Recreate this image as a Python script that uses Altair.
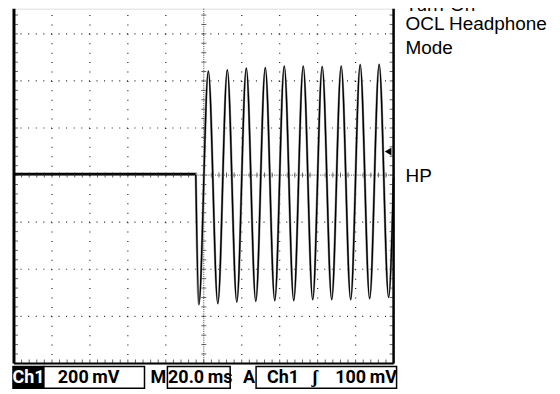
import altair as alt
import pandas as pd

# ---- scope geometry (data units): 20 ms/div, 200 mV/div ----
x_major = [-80, -60, -40, -20, 20, 40, 60, 80]
y_major = [-600, -400, -200, 200, 400, 600]
x_minor = [-100 + 4 * i for i in range(51)]
y_minor = [-800 + 40 * i for i in range(38)]

# ---- idle trace before turn-on ----
flat_t = [-100, -4.2]
flat_mv = [4, 4]

# ---- sine burst after turn-on: start, troughs/peaks, end ----
wave_t = [-4.2, -2.6, 2.4, 7.4, 12.4, 17.4, 22.4, 27.4, 32.4, 37.4, 42.4, 47.4,
          52.4, 57.4, 62.4, 67.4, 72.4, 77.4, 82.4, 87.4, 92.4, 97.4, 100]
wave_mv = [0, -550, 441, -546, 447, -539, 454, -536, 456, -533, 463, -533,
           463, -529, 461, -529, 463, -529, 469, -525, 470, -519, -10]

trigger_mv = [100]

# ---- status bar text ----
bar_labels = ["200\u2009mV", "M", "20.0\u2009ms", "A", "Ch1", "\u0283", "100\u2009mV"]
bar_x = [75, 145, 187, 236, 270, 302, 353.5]
side_labels = ["Turn-On", "OCL Headphone", "Mode", "HP"]
side_y = [2, 21, 45, 174]

W, H = 381, 356
xs = alt.Scale(domain=[-100, 100], nice=False, zero=False)
ys = alt.Scale(domain=[-800, 706.9], nice=False, zero=False)

X = lambda f="t": alt.X(f"{f}:Q", scale=xs, axis=None)
Y = lambda f="v": alt.Y(f"{f}:Q", scale=ys, axis=None)

vgrid = alt.Chart(pd.DataFrame({"t": x_major})).mark_rule(
    color="#222", strokeWidth=1.2, strokeDash=[1, 8.45], strokeDashOffset=3.09).encode(x=X())
hgrid = alt.Chart(pd.DataFrame({"v": y_major})).mark_rule(
    color="#222", strokeWidth=1.2, strokeDash=[1, 6.62], strokeDashOffset=0).encode(y=Y())

flat = alt.Chart(pd.DataFrame({"t": flat_t, "v": flat_mv})).mark_line(
    color="black", strokeWidth=2.6).encode(x=X(), y=Y())

center_v = alt.Chart(pd.DataFrame({"t": [0]})).mark_rule(
    color="#444", strokeDash=[1, 1.2], strokeWidth=1).encode(x=X())
center_h = alt.Chart(pd.DataFrame({"v": [0]})).mark_rule(
    color="#444", strokeDash=[1, 1.2], strokeWidth=1).encode(y=Y())

ticks_h = alt.Chart(pd.DataFrame({"t": x_minor, "v": [0] * len(x_minor)})).mark_tick(
    orient="vertical", size=5, thickness=1, color="#222").encode(x=X(), y=Y())
ticks_v = alt.Chart(pd.DataFrame({"t": [0] * len(y_minor), "v": y_minor})).mark_tick(
    orient="horizontal", size=5, thickness=1, color="#222").encode(x=X(), y=Y())

ticks_b = alt.Chart(pd.DataFrame({"t": x_minor, "v": [-800] * len(x_minor)})).mark_tick(
    orient="vertical", size=4, thickness=1, color="#222", yOffset=-2).encode(x=X(), y=Y())
ticks_l = alt.Chart(pd.DataFrame({"t": [-100] * len(y_minor), "v": y_minor})).mark_tick(
    orient="horizontal", size=4, thickness=1, color="#222", xOffset=2).encode(x=X(), y=Y())
ticks_r = alt.Chart(pd.DataFrame({"t": [100] * len(y_minor), "v": y_minor})).mark_tick(
    orient="horizontal", size=4, thickness=1, color="#222", xOffset=-2).encode(x=X(), y=Y())

border_l = alt.Chart(pd.DataFrame({"t": [-100]})).mark_rule(color="black", strokeWidth=3).encode(x=X())
border_r = alt.Chart(pd.DataFrame({"t": [100]})).mark_rule(color="black", strokeWidth=2.5).encode(x=X())
border_b = alt.Chart(pd.DataFrame({"v": [-800]})).mark_rule(color="black", strokeWidth=2).encode(y=Y())

wave_df = pd.DataFrame({"t": wave_t, "v": wave_mv})
wave_gray = alt.Chart(wave_df).mark_line(color="#999", strokeWidth=2.4, interpolate="monotone").encode(x=X(), y=Y())
wave_black = alt.Chart(wave_df).mark_line(color="black", strokeWidth=1.4, interpolate="monotone").encode(x=X(), y=Y())

trig = alt.Chart(pd.DataFrame({"v": trigger_mv})).mark_point(
    shape="triangle-left", filled=True, color="black", size=60, opacity=1).encode(
    x=alt.value(375.5), y=Y())

# status bar boxes (pixel positions)
box_df = pd.DataFrame({
    "x1": [-1, 30, 154, 243],
    "x2": [30, 131, 217, 384],
    "fill": ["black", "white", "white", "white"],
})
boxes = alt.Chart(box_df).mark_rect(stroke="black", strokeWidth=1.5).encode(
    x=alt.X("x1:Q", scale=None), x2="x2:Q",
    y=alt.value(359), y2=alt.value(381),
    fill=alt.Fill("fill:N", scale=None),
)

bar_font = "Roboto"
ch1 = alt.Chart(pd.DataFrame({"s": ["Ch1"]})).mark_text(
    font=bar_font, fontSize=18, fontWeight="bold", color="white", align="center",
    baseline="alphabetic").encode(text="s:N", x=alt.value(14.5), y=alt.value(376))
bar_text = alt.Chart(pd.DataFrame({"s": bar_labels, "x": bar_x})).mark_text(
    font=bar_font, fontSize=18, fontWeight="bold", color="black", align="center",
    baseline="alphabetic").encode(text="s:N", x=alt.X("x:Q", scale=None), y=alt.value(376))

side_text = alt.Chart(pd.DataFrame({"s": side_labels, "y": side_y})).mark_text(
    font="Liberation Sans, Arial, sans-serif", fontSize=19, color="black", align="left",
    baseline="alphabetic").encode(text="s:N", x=alt.value(393), y=alt.Y("y:Q", scale=None))

chart = alt.layer(
    vgrid, hgrid, flat, center_v, center_h, ticks_h, ticks_v, ticks_b, ticks_l, ticks_r,
    wave_gray, wave_black, border_l, border_r, border_b, trig,
    boxes, ch1, bar_text, side_text,
).properties(
    width=W, height=H,
    autosize=alt.AutoSizeParams(type="none"),
    padding={"left": 6, "top": 0, "right": 159, "bottom": 27},
).configure_view(stroke=None).configure(background="white")

chart.save("out.html", embed_options={"renderer": "svg", "actions": False})
